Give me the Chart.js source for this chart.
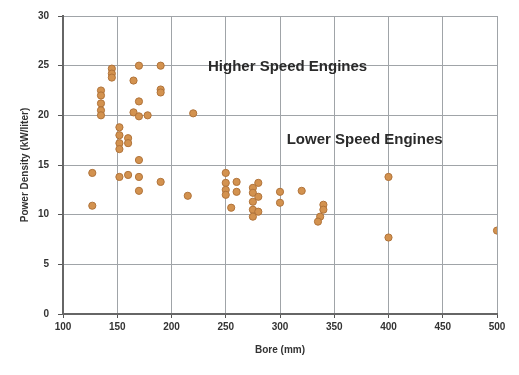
<!DOCTYPE html>
<html>
<head>
<meta charset="utf-8">
<script src="https://cdn.jsdelivr.net/npm/chart.js@4/dist/chart.umd.min.js"></script>
<style>
html,body{margin:0;padding:0;background:#fff;}
#wrap{width:519px;height:375px;position:relative;}
</style>
</head>
<body>
<div id="wrap"><canvas id="c" width="519" height="375"></canvas></div>
<script>
const bore = [127,127,145,145,145,170,190,165,190,190,135,135,135,135,135,170,165,170,178,220,152,152,152,152,160,160,170,152,160,170,170,190,215,250,250,250,250,260,260,255,275,275,275,275,275,280,280,280,300,300,320,340,340,337,335,400,400,500];
const powerDensity = [14.2,10.9,24.7,24.2,23.8,25.0,25.0,23.5,22.6,22.3,22.5,22.0,21.2,20.5,20.0,21.4,20.3,19.9,20.0,20.2,18.8,18.0,17.2,16.6,17.7,17.2,15.5,13.8,14.0,13.8,12.4,13.3,11.9,14.2,13.2,12.5,12.0,13.3,12.3,10.7,12.7,12.2,11.3,10.5,9.8,13.2,11.8,10.3,12.3,11.2,12.4,11.0,10.5,9.8,9.3,13.8,7.7,8.4];
const xTicks = [100,150,200,250,300,350,400,450,500];
const yTicks = [0,5,10,15,20,25,30];
const labels = [
  {text:'Higher Speed Engines', x:307, y:24.9},
  {text:'Lower Speed Engines', x:378, y:17.5}
];

const points = bore.map((b,i)=>({x:b,y:powerDensity[i]}));
const FONT = '"Liberation Sans", Arial, sans-serif';

const textPlugin = {
  id:'annot',
  afterDatasetsDraw(chart){
    const {ctx, scales:{x,y}} = chart;
    ctx.save();
    ctx.font = 'bold 15px ' + FONT;
    ctx.fillStyle = '#2a2a2a';
    ctx.textAlign = 'center';
    ctx.textBaseline = 'middle';
    labels.forEach(l=>ctx.fillText(l.text, x.getPixelForValue(l.x), y.getPixelForValue(l.y)));
    ctx.restore();
  }
};

new Chart(document.getElementById('c'), {
  type:'scatter',
  data:{datasets:[{
    data:points,
    backgroundColor:'#d3924f',
    borderColor:'#b0733a',
    borderWidth:1,
    pointRadius:3.6,
    pointHoverRadius:3.6
  }]},
  options:{
    responsive:false,
    animation:false,
    plugins:{legend:{display:false},tooltip:{enabled:false}},
    layout:{padding:{left:15,right:22,top:16,bottom:15}},
    scales:{
      x:{
        type:'linear', min:100, max:500,
        afterBuildTicks(s){ s.ticks = xTicks.map(v=>({value:v})); },
        afterFit(s){ s.height = 46; },
        grid:{color:'#a0a4a8', lineWidth:1, tickLength:4, tickColor:'#555'},
        border:{color:'#666', width:2},
        ticks:{color:'#333', font:{family:FONT, size:10, weight:'bold'}, padding:3, maxRotation:0},
        title:{display:true, text:'Bore (mm)', color:'#333', font:{family:FONT, size:10, weight:'bold'}, padding:{top:4}}
      },
      y:{
        type:'linear', min:0, max:30,
        afterBuildTicks(s){ s.ticks = yTicks.map(v=>({value:v})); },
        afterFit(s){ s.width = 48; },
        grid:{color:'#a0a4a8', lineWidth:1, tickLength:5, tickColor:'#555'},
        border:{color:'#666', width:2},
        ticks:{color:'#333', font:{family:FONT, size:10, weight:'bold'}, padding:9},
        title:{display:true, text:'Power Density (kW/liter)', color:'#333', font:{family:FONT, size:10, weight:'bold'}, padding:{bottom:0}}
      }
    }
  },
  plugins:[textPlugin]
});
</script>
</body>
</html>
